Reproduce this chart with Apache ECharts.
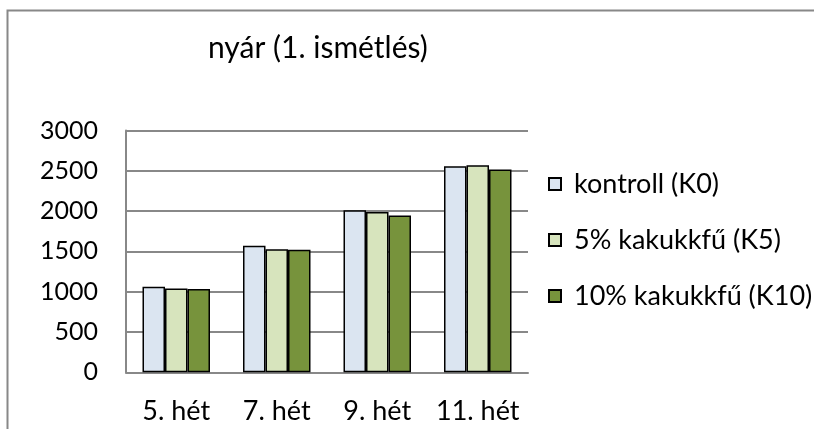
<!DOCTYPE html>
<html>
<head>
<meta charset="utf-8">
<script src="https://cdn.jsdelivr.net/npm/echarts@6/dist/echarts.min.js"></script>
<style>
  html, body { margin: 0; padding: 0; background: #fff; }
  #main { width: 814px; height: 429px; }
</style>
</head>
<body>
<div id="main"></div>
<script>
const categories = ['5. hét', '7. hét', '9. hét', '11. hét'];
const seriesNames = ['kontroll (K0)', '5% kakukkfű (K5)', '10% kakukkfű (K10)'];
const k0 = [1060, 1570, 2012, 2558];
const k5 = [1040, 1528, 1988, 2570];
const k10 = [1032, 1522, 1946, 2517];
const colors = ['#DBE5F1', '#D7E4BD', '#77933C'];

const chart = echarts.init(document.getElementById('main'));
const font = 'Lato';

const mkSeries = (name, data, i) => ({
  name: name,
  type: 'bar',
  data: data,
  barWidth: 22.5,
  barGap: '0%',
  itemStyle: { color: colors[i], borderColor: '#000', borderWidth: 1.5 },
  animation: false
});

chart.setOption({
  backgroundColor: '#fff',
  textStyle: { fontFamily: font },
  title: {
    text: 'nyár (1. ismétlés)',
    left: 203,
    top: 28,
    textStyle: { fontFamily: font, fontSize: 30, fontWeight: 'normal', color: '#000' }
  },
  graphic: [{
    type: 'rect',
    shape: { x: 7.5, y: 10.5, width: 820, height: 440 },
    style: { fill: 'none', stroke: '#888', lineWidth: 2 },
    silent: true
  }],
  legend: {
    orient: 'vertical',
    left: 543,
    top: 165,
    itemWidth: 12,
    itemHeight: 12,
    itemGap: 28,
    icon: 'rect',
    data: seriesNames,
    textStyle: { fontFamily: font, fontSize: 27, color: '#000', lineHeight: 28, padding: [0, 0, 0, 8] }
  },
  grid: {
    left: 126,
    top: 130.5,
    right: 286,
    bottom: 56.7,
    containLabel: false,
    outerBoundsMode: 'none'
  },
  xAxis: {
    type: 'category',
    data: categories,
    axisLine: { show: true, lineStyle: { color: '#888', width: 2 } },
    axisTick: { show: false },
    axisLabel: { color: '#000', fontSize: 27, fontFamily: font, margin: 25, interval: 0 }
  },
  yAxis: {
    type: 'value',
    min: 0,
    max: 3000,
    interval: 500,
    axisLine: { show: true, lineStyle: { color: '#888', width: 2 } },
    axisTick: { show: false },
    splitLine: { show: true, lineStyle: { color: '#888', width: 2 } },
    axisLabel: { color: '#000', fontSize: 25, fontFamily: font, margin: 28, formatter: v => String(v) }
  },
  series: [
    mkSeries(seriesNames[0], k0, 0),
    mkSeries(seriesNames[1], k5, 1),
    mkSeries(seriesNames[2], k10, 2)
  ]
});
</script>
</body>
</html>
